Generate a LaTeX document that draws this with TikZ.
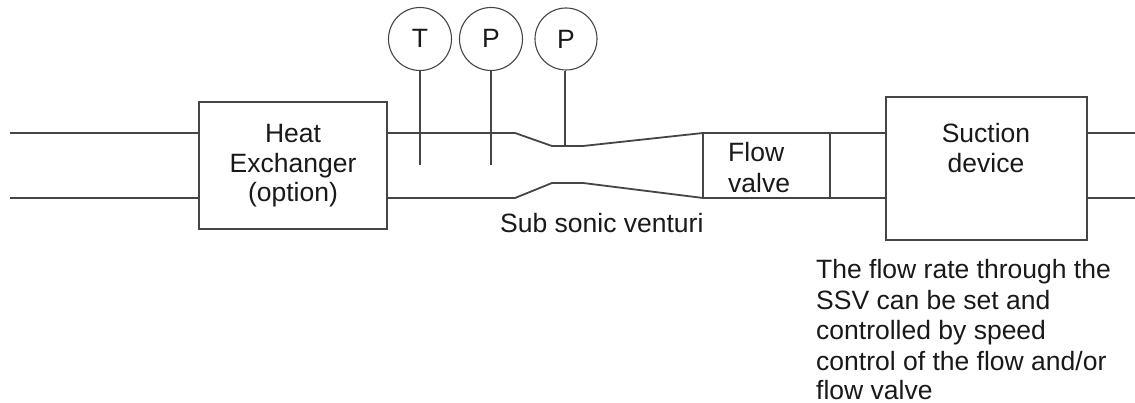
\documentclass[tikz,border=0pt]{standalone}
\usepackage{fontspec}
\setmainfont{Liberation Sans}
\definecolor{ink}{gray}{0.27}
\definecolor{txt}{gray}{0.1}
\tikzset{
 pipe/.style={draw=ink,line width=1.8pt},
 stem/.style={draw=ink,line width=1.3pt},
 boxn/.style={draw=ink,line width=1.3pt,fill=white,inner sep=0,minimum width=#1},
 gauge/.style={circle,draw=ink,line width=1.1pt,inner sep=0,minimum size=63pt,text=txt,font=\fontsize{26.5}{30}\selectfont},
 lab/.style={font=\fontsize{26.5}{30.5}\selectfont,text=txt,inner sep=0},
}
\begin{document}
\begin{tikzpicture}[x=1pt,y=-1pt]
\useasboundingbox (0,0) rectangle (1135,403);
% free ends and junctions
\coordinate (lt) at (10,133);
\coordinate (lb) at (10,198);
\coordinate (hxt) at (387,133);
\coordinate (hxb) at (387,198);
\coordinate (hxlt) at (199,133);
\coordinate (hxlb) at (199,198);
\coordinate (ct1) at (515,133);
\coordinate (ct2) at (552,146);
\coordinate (ct3) at (583,146);
\coordinate (vt) at (703,133);
\coordinate (cb1) at (515,198);
\coordinate (cb2) at (552,183);
\coordinate (cb3) at (583,183);
\coordinate (vb) at (703,198);
\coordinate (vrt) at (830,133);
\coordinate (vrb) at (830,198);
\coordinate (slt) at (886,133);
\coordinate (slb) at (886,198);
\coordinate (srt) at (1087,133);
\coordinate (srb) at (1087,198);
\coordinate (rt) at (1135,133);
\coordinate (rb) at (1135,198);
\coordinate (s1) at (420,165);
\coordinate (s2) at (491,165);
\coordinate (s3) at (565,146);
% pipes
\draw[pipe] (lt) -- (hxlt);
\draw[pipe] (lb) -- (hxlb);
\draw[pipe] (hxt) -- (ct1) -- (ct2) -- (ct3) -- (vt) -- (slt);
\draw[pipe] (hxb) -- (cb1) -- (cb2) -- (cb3) -- (vb) -- (slb);
\draw[pipe] (srt) -- (rt);
\draw[pipe] (srb) -- (rb);
\draw[pipe] (vt) -- (vb);
\draw[pipe] (vrt) -- (vrb);
% boxes
\node[boxn=188pt,minimum height=127pt] (hx) at (293,165.5) {};
\node[boxn=201pt,minimum height=143pt] (sd) at (986.5,168.5) {};
% gauges
\node[gauge] (g1) at (420,39) {\raisebox{1.5pt}{T}};
\node[gauge] (g2) at (491,39) {\raisebox{1.5pt}{P}};
\node[gauge,minimum size=62pt] (g3) at (566,39) {P};
\draw[stem] (g1) -- (s1);
\draw[stem] (g2) -- (s2);
\draw[stem] (s3 |- g3.south) -- (s3);
% labels
\node[lab,anchor=base] (t1) at (293,143) {Heat};
\node[lab,anchor=base] (t2) at (293,172.5) {Exchanger};
\node[lab,anchor=base] (t3) at (293,202) {(option)};
\node[lab,anchor=base west] (t4) at (728,162) {Flow};
\node[lab,anchor=base west] (t5) at (728,193) {valve};
\node[lab,anchor=base] (t6) at (986,143) {Suction};
\node[lab,anchor=base] (t7) at (986,173) {device};
\node[lab,anchor=base west] (t8) at (500,232.5) {Sub sonic venturi};
\node[lab,anchor=base west] (n1) at (816,278.5) {The flow rate through the};
\node[lab,anchor=base west] (n2) at (816,309) {SSV can be set and};
\node[lab,anchor=base west] (n3) at (816,339.5) {controlled by speed};
\node[lab,anchor=base west] (n4) at (816,370) {control of the flow and/or};
\node[lab,anchor=base west] (n5) at (816,399.5) {flow valve};
\end{tikzpicture}
\end{document}
